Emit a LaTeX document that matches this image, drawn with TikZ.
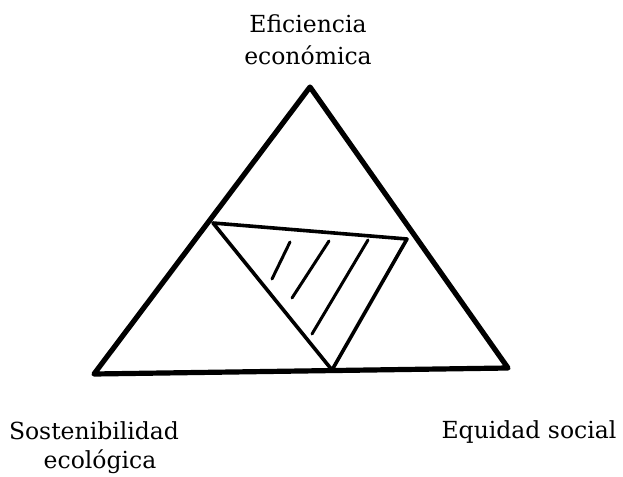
\documentclass[tikz,border=0pt]{standalone}
\usepackage{fontspec}
\setmainfont{DejaVu Serif}
\begin{document}
\begin{tikzpicture}[x=1pt,y=-1pt,
  outer/.style={line width=5.2pt,line join=round,line cap=round},
  inner/.style={line width=3.6pt,line join=round,line cap=round},
  hatch/.style={line width=3pt,line cap=round},
  lbl/.style={font=\fontsize{23.5}{30}\selectfont,inner sep=0pt,anchor=base}]
\useasboundingbox (0,0) rectangle (623,476);
\coordinate (A) at (310,87);
\coordinate (B) at (94,374);
\coordinate (C) at (508,368);
\coordinate (P) at (213,223);
\coordinate (Q) at (407,239);
\coordinate (R) at (332,370);
\draw[outer] (A) -- (B) -- (C) -- cycle;
\draw[inner] (P) -- (Q) -- (R) -- cycle;
\coordinate (h1a) at (290,242); \coordinate (h1b) at (272,279);
\coordinate (h2a) at (329,241); \coordinate (h2b) at (292,298);
\coordinate (h3a) at (368,240); \coordinate (h3b) at (312,334);
\draw[hatch] (h1a) -- (h1b);
\draw[hatch] (h2a) -- (h2b);
\draw[hatch] (h3a) -- (h3b);
\node[lbl] (top1) at (308,33) {Eficiencia};
\node[lbl] (top2) at (308,65) {económica};
\node[lbl] (left1) at (94,439) {Sostenibilidad};
\node[lbl] (left2) at (100,468) {ecológica};
\node[lbl] (right) at (529,438) {Equidad social};
\end{tikzpicture}
\end{document}
